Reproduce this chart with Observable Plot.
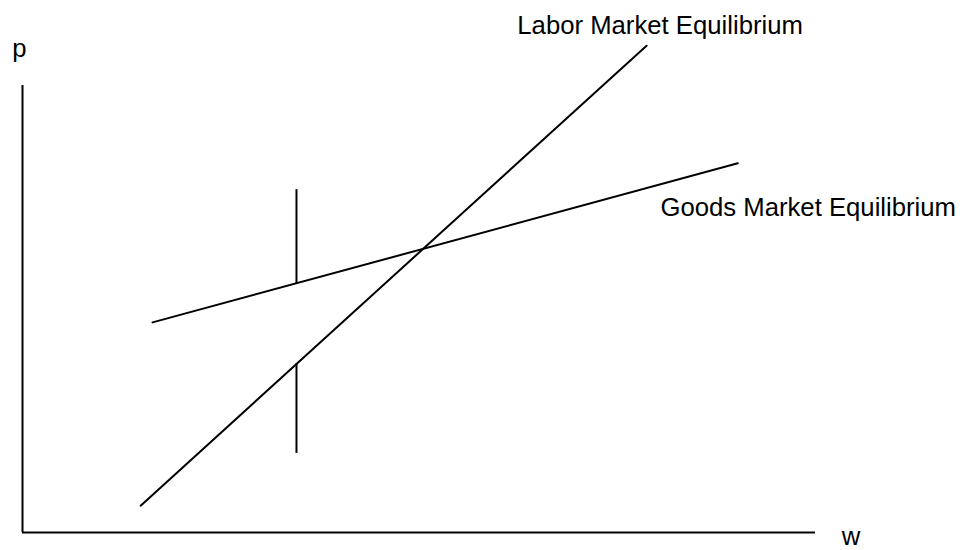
<!DOCTYPE html>
<html>
<head>
<meta charset="utf-8">
<script src="https://cdn.jsdelivr.net/npm/d3@7"></script>
<script src="https://cdn.jsdelivr.net/npm/@observablehq/plot@0.6"></script>
<style>
  html, body { margin: 0; padding: 0; background: #fff; }
  #chart svg { display: block; }
</style>
</head>
<body>
<div id="chart"></div>
<script>
// Abstract units: w (wage) on x from 0 to 100, p (price) on y from 0 to 100
const laborW = [14.9, 78.7];
const laborP = [6.0, 108.9];
const goodsW = [16.4, 90.2];
const goodsP = [47.0, 82.6];
const shiftW = [34.55];
const upperSegP = [55.7, 76.7];
const lowerSegP = [17.7, 37.8];
const labelNames = ["p", "Labor Market Equilibrium", "Goods Market Equilibrium", "w"];
const labelW = [-1.3, 62.4, 80.45, 103.3];
const labelP = [106.3, 111.6, 70.9, -2.9];

const labor = laborW.map((w, i) => ({w, p: laborP[i]}));
const goods = goodsW.map((w, i) => ({w, p: goodsP[i]}));
const segs = [
  {w: shiftW[0], p1: upperSegP[0], p2: upperSegP[1]},
  {w: shiftW[0], p1: lowerSegP[0], p2: lowerSegP[1]}
];
const labels = labelNames.map((t, i) => ({t, w: labelW[i], p: labelP[i]}));

const chart = Plot.plot({
  width: 960,
  height: 550,
  marginLeft: 22,
  marginRight: 145,
  marginTop: 85,
  marginBottom: 18,
  style: {fontFamily: "'Liberation Sans', Arial, sans-serif", background: "#fff"},
  x: {domain: [0, 100], axis: null},
  y: {domain: [0, 100], axis: null},
  marks: [
    Plot.ruleX([0], {y1: 0, y2: 100, stroke: "#000", strokeWidth: 2}),
    Plot.ruleY([0], {x1: 0, x2: 100, stroke: "#000", strokeWidth: 2}),
    Plot.line(labor, {x: "w", y: "p", stroke: "#000", strokeWidth: 2}),
    Plot.line(goods, {x: "w", y: "p", stroke: "#000", strokeWidth: 2}),
    Plot.ruleX(segs, {x: "w", y1: "p1", y2: "p2", stroke: "#000", strokeWidth: 2}),
    Plot.text(labels, {x: "w", y: "p", text: "t", textAnchor: "start", lineAnchor: "bottom", fontSize: 25.7, fill: "#000"})
  ]
});
document.getElementById("chart").appendChild(chart);
</script>
</body>
</html>
